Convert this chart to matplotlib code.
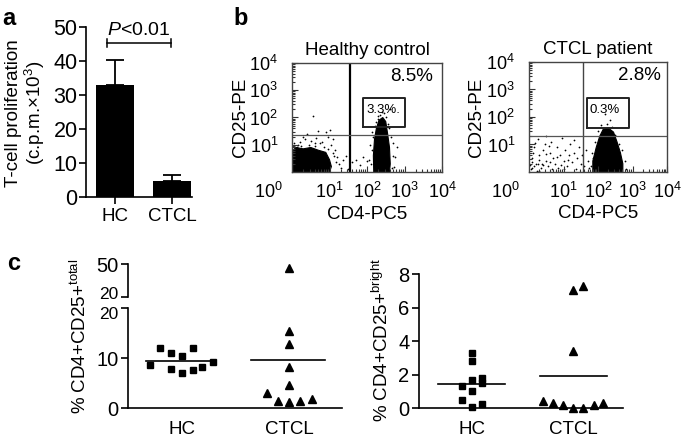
import numpy as np
import matplotlib
matplotlib.use('Agg')
import matplotlib.pyplot as plt
from matplotlib.transforms import ScaledTranslation

plt.rcParams['font.family'] = ['Liberation Sans', 'DejaVu Sans']
plt.rcParams['mathtext.fontset'] = 'custom'
plt.rcParams['mathtext.rm'] = 'Liberation Sans'
plt.rcParams['mathtext.it'] = 'Liberation Sans:italic'
plt.rcParams['mathtext.bf'] = 'Liberation Sans:bold'

## Panel a: proliferation
groups = ['HC', 'CTCL']
prolif_mean = [33.0, 4.6]
prolif_err = [7.3, 2.0]

## Panel b: flow plots (values in log10 units)
hc_neg_x = [0.0, 0.0, 0.1, 0.3, 0.5, 0.7, 0.9, 1.0, 1.05, 1.0]
hc_neg_y = [0.0, 0.75, 0.9, 0.85, 0.9, 0.8, 0.72, 0.45, 0.2, 0.0]
hc_pos_x = [2.18, 2.17, 2.2, 2.25, 2.32, 2.42, 2.5, 2.55, 2.6, 2.62, 2.6]
hc_pos_y = [0.0, 0.6, 1.2, 1.6, 1.9, 2.0, 1.85, 1.4, 0.9, 0.3, 0.0]
hc_ev_x = [0.05, 0.2, 0.35, 0.5, 0.65, 0.8, 0.95, 1.05, 1.15, 1.2, 1.25, 1.3,
           0.4, 0.7, 0.9, 1.0, 0.55, 0.3, 1.1, 1.35, 1.45, 1.6, 1.7, 1.8,
           1.9, 2.0, 1.5, 0.12, 0.75, 0.25, 0.6, 0.85, 1.12,
           2.1, 2.12, 2.15, 2.2, 2.3, 2.35, 2.5, 2.55, 2.65, 2.7, 2.68, 2.75,
           2.72, 2.14, 2.05, 2.45, 2.6, 2.8, 2.4, 2.28,
           0.15, 0.45, 0.62, 0.95, 1.08, 0.02, 1.18, 2.08, 2.66, 2.25, 2.58]
hc_ev_y = [1.05, 1.1, 1.2, 1.15, 1.25, 1.1, 1.3, 1.0, 0.8, 0.55, 0.3, 0.15,
           1.4, 1.5, 1.45, 1.55, 2.05, 1.3, 1.2, 0.45, 0.6, 0.35, 0.45, 0.25,
           0.55, 0.4, 0.1, 0.9, 1.05, 0.95, 0.95, 0.9, 0.6,
           0.3, 0.8, 1.3, 1.7, 2.05, 2.1, 2.0, 1.75, 1.3, 1.05, 0.6, 0.55,
           0.2, 1.45, 0.45, 2.15, 2.3, 0.9, 2.2, 1.95,
           1.0, 1.0, 1.05, 0.85, 0.7, 0.95, 0.35, 1.0, 0.15, 1.85, 1.6]

ct_pos_x = [1.85, 1.85, 1.95, 2.05, 2.15, 2.3, 2.45, 2.55, 2.65, 2.72, 2.72]
ct_pos_y = [0.0, 0.4, 0.9, 1.3, 1.55, 1.6, 1.45, 1.1, 0.7, 0.3, 0.0]
ct_ev_x = [0.05, 0.1, 0.15, 0.2, 0.25, 0.3, 0.35, 0.4, 0.45, 0.5, 0.55, 0.6,
           0.65, 0.7, 0.75, 0.8, 0.85, 0.9, 0.95, 1.0, 1.05, 1.1, 1.15, 1.2,
           1.25, 1.3, 1.35, 1.4, 1.45, 1.5, 1.55, 1.6, 1.65, 1.7, 1.75, 0.12,
           0.28, 0.48, 0.62, 0.82, 0.92, 1.12, 0.38, 0.58, 0.22, 0.68, 1.02,
           0.18, 1.3, 0.5, 1.85, 1.9, 0.02, 0.08, 0.15, 0.3, 0.42, 0.1, 0.25,
           1.8, 1.82, 1.9, 2.0, 2.1, 2.25, 2.4, 2.5, 2.6, 2.7, 2.78, 2.8,
           2.2, 2.35, 1.95]
ct_ev_y = [0.1, 0.5, 0.9, 0.3, 1.2, 0.6, 0.15, 0.8, 1.0, 0.4, 0.2, 0.7,
           1.1, 0.5, 0.3, 0.9, 0.15, 0.6, 1.25, 0.4, 0.8, 0.2, 0.6, 1.0,
           0.35, 0.7, 0.1, 0.5, 0.9, 0.3, 0.6, 0.2, 0.8, 0.4, 0.15, 0.7,
           0.45, 0.65, 0.35, 0.55, 0.25, 0.45, 0.3, 0.95, 0.05, 0.12, 0.1,
           1.05, 1.15, 1.3, 0.5, 0.2, 0.25, 0.35, 0.2, 0.05, 0.25, 0.15, 0.3,
           0.2, 0.7, 1.1, 1.5, 1.7, 1.75, 1.65, 1.35, 1.0, 0.8, 0.4, 0.1,
           2.1, 1.9, 0.3]

## gates: x, y, bright box [x0, x1, y0, y1], labels
hc_gate = (1.55, 1.36, [1.9, 3.02, 1.65, 2.72], '8.5%', '3.3%.')
ct_gate = (1.57, 1.31, [1.68, 2.9, 1.6, 2.69], '2.8%', '0.3%')

## Panel c: dot plots
hc_total = [8.7, 12.0, 11.0, 7.9, 10.5, 7.1, 12.0, 7.6, 8.3, 9.3]
hc_total_jit = [-0.30, -0.21, -0.10, -0.10, 0.0, 0.0, 0.10, 0.10, 0.19, 0.29]
ct_total = [46.6, 15.4, 12.9, 8.3, 4.7, 1.3, 3.1, 1.4, 1.4, 1.9]
ct_total_jit = [0.0, 0.0, 0.0, 0.0, 0.0, 0.0, -0.21, -0.10, 0.10, 0.21]

hc_bright = [1.33, 0.48, 3.3, 2.8, 1.68, 1.03, 0.08, 1.81, 1.47, 0.22]
hc_bright_jit = [-0.1, -0.1, 0.0, 0.0, 0.0, 0.0, 0.0, 0.1, 0.1, 0.1]
ct_bright = [7.04, 7.3, 3.42, 0.44, 0.3, 0.18, 0.02, 0.02, 0.18, 0.3]
ct_bright_jit = [0.0, 0.1, 0.0, -0.3, -0.2, -0.1, 0.0, 0.1, 0.2, 0.29]

W, H = 686, 440
fig = plt.figure(figsize=(W / 100, H / 100), dpi=100)


def add_ax(l, t, r, b):
    return fig.add_axes([l / W, 1 - b / H, (r - l) / W, (b - t) / H])


FS = 13.5

## ---- panel a
ax = add_ax(86, 27, 192, 197)
ax.bar([0, 1], prolif_mean, width=0.667, color='black',
       yerr=[[0, 0], prolif_err],
       error_kw=dict(ecolor='black', elinewidth=1.3, capsize=6.5, capthick=1.3))
ax.set_xlim(-0.51, 1.35)
ax.set_ylim(0, 50)
ax.set_yticks(range(0, 51, 10))
ax.set_xticks([0, 1])
ax.set_xticklabels(groups)
for s in ['top', 'right']:
    ax.spines[s].set_visible(False)
for s in ['left', 'bottom']:
    ax.spines[s].set_linewidth(1.2)
ax.tick_params(length=5, width=1.2, labelsize=FS, pad=3)
ax.tick_params(axis='y', labelsize=15.5, pad=1)
ax.plot([-0.14, 0.98], [45.3, 45.3], color='black', lw=1.1, clip_on=False)
ax.plot([-0.14, -0.14], [44.0, 46.4], color='black', lw=1.1, clip_on=False)
ax.plot([0.98, 0.98], [44.0, 46.4], color='black', lw=1.1, clip_on=False)
ax.text(0.42, 46.4, '$P$<0.01', ha='center', va='bottom', fontsize=FS + 0.5)
fig.text(26 / W, 1 - 113 / H, 'T-cell proliferation\n(c.p.m.×10$^3$)',
         rotation=90, ha='center', va='center', fontsize=FS, linespacing=1.1)


## ---- panel b
def flow(box, neg, pos, ev, gate, title, cx):
    ax = add_ax(*box)
    ax.set_xlim(0, 4)
    ax.set_ylim(0, 4)
    if neg is not None:
        ax.fill(neg[0], neg[1], color='black', lw=0.8)
    ax.fill(pos[0], pos[1], color='black', lw=0.8)
    ax.scatter(ev[0], ev[1], s=1.6, color='black', linewidths=0, clip_on=False)
    gx, gy, bx, big, small = gate
    ax.axvline(gx, color='black' if neg is not None else '#444444',
               lw=1.6 if neg is not None else 1.0)
    ax.axhline(gy, color='#555555', lw=0.9)
    ax.plot([bx[0], bx[1], bx[1], bx[0], bx[0]],
            [bx[2], bx[2], bx[3], bx[3], bx[2]], color='#222222', lw=1.4)
    ax.text(bx[0] + 0.08, (bx[2] + bx[3]) / 2 + 0.1, small, ha='left',
            va='center', fontsize=9.5)
    ax.text(0.80, 0.875, big, transform=ax.transAxes, ha='center',
            va='center', fontsize=FS)
    ax.set_xticks([1, 2, 3, 4])
    ax.set_yticks([1, 2, 3, 4])
    ax.set_xticklabels(['$10^{%d}$' % k for k in range(1, 5)])
    ax.set_yticklabels(['$10^{%d}$' % k for k in range(1, 5)])
    minors = [k + np.log10(m) for k in range(4) for m in range(2, 10)]
    ax.set_xticks(minors, minor=True)
    ax.set_yticks(minors, minor=True)
    ax.tick_params(which='both', direction='in', color='#333333', width=0.8,
                   labelsize=FS - 0.5)
    ax.tick_params(which='major', length=4)
    ax.tick_params(which='minor', length=2.5)
    ax.tick_params(axis='x', pad=7)
    ax.tick_params(axis='y', pad=10)
    for s in ax.spines.values():
        s.set_color('#444444')
        s.set_linewidth(1.0)
    ax.set_title(title, fontsize=FS, pad=6)
    w = box[2] - box[0]
    hgt = box[3] - box[1]
    ax.text(cx, -10 / hgt, '$10^0$', transform=ax.transAxes, ha='center',
            va='top', fontsize=FS - 0.5)
    ax.text(-52 / w, 0.5, 'CD25-PE', transform=ax.transAxes,
            rotation=90, ha='center', va='center', fontsize=FS)
    ax.text(0.5, -42 / hgt, 'CD4-PC5', transform=ax.transAxes, ha='center',
            va='center', fontsize=FS)
    return ax


flow((292, 63, 442, 172), (hc_neg_x, hc_neg_y), (hc_pos_x, hc_pos_y),
     (hc_ev_x, hc_ev_y), hc_gate, 'Healthy control', -0.16)
flow((529, 62, 667, 172), None, (ct_pos_x, ct_pos_y),
     (ct_ev_x, ct_ev_y), ct_gate, 'CTCL patient', -0.174)


## ---- panel c
def style_dot(ax, xlab=True):
    for s in ['top', 'right']:
        ax.spines[s].set_visible(False)
    for s in ['left', 'bottom']:
        ax.spines[s].set_linewidth(1.2)
    ax.tick_params(axis='y', length=5, width=1.2, labelsize=14.5, pad=2)
    if xlab:
        ax.set_xticks([0, 1])
        ax.set_xticklabels(groups)
        ax.tick_params(axis='x', length=0, labelsize=FS, pad=9)


mk = dict(color='black', ls='none', clip_on=False)

lo = add_ax(128, 308, 342, 408)
hi = add_ax(128, 264, 342, 297)
lo.set_xlim(-0.505, 1.495)
hi.set_xlim(-0.505, 1.495)
lo.set_ylim(0, 20)
hi.set_ylim(20, 50)
lo.set_yticks([0, 10, 20])
hi.set_yticks([20, 50])
style_dot(lo)
style_dot(hi, xlab=False)
hi.spines['bottom'].set_visible(False)
hi.set_xticks([])
# pull the two "20" labels of the broken axis apart a little
lab_lo = lo.get_yticklabels()[-1]
lab_lo.set_fontsize(12.5)
lab_lo.set_transform(lab_lo.get_transform()
                     + ScaledTranslation(0, -0.05, fig.dpi_scale_trans))
lab_hi = hi.get_yticklabels()[0]
lab_hi.set_fontsize(12.5)
lab_hi.set_transform(lab_hi.get_transform()
                     + ScaledTranslation(0, 0.04, fig.dpi_scale_trans))

hv = np.array(hc_total)
cv = np.array(ct_total)
hj = np.array(hc_total_jit)
cj = np.array(ct_total_jit)
lo.plot(hj, hv, marker='s', ms=5, **mk)
lo.plot(cj[cv < 20] + 1, cv[cv < 20], marker='^', ms=5.5, **mk)
hi.plot(cj[cv >= 20] + 1, cv[cv >= 20], marker='^', ms=5.5, **mk)
lo.plot([-0.34, 0.27], [hv.mean()] * 2, color='black', lw=1.2)
lo.plot([1 - 0.36, 1 + 0.34], [cv.mean()] * 2, color='black', lw=1.2)
fig.text(80 / W, 1 - 336 / H, '% CD4+CD25+$^{\\mathrm{total}}$', rotation=90,
         ha='center', va='center', fontsize=FS)

rc = add_ax(419, 274, 623, 408)
rc.set_xlim(-0.52, 1.49)
rc.set_ylim(0, 8)
rc.set_yticks([0, 2, 4, 6, 8])
style_dot(rc)
hb = np.array(hc_bright)
cb = np.array(ct_bright)
rc.plot(np.array(hc_bright_jit), hb, marker='s', ms=5, **mk)
rc.plot(np.array(ct_bright_jit) + 1, cb, marker='^', ms=5.5, **mk)
rc.plot([-0.33, 0.33], [hb.mean()] * 2, color='black', lw=1.2)
rc.plot([1 - 0.33, 1 + 0.33], [cb.mean()] * 2, color='black', lw=1.2)
fig.text(382 / W, 1 - 340 / H, '% CD4+CD25+$^{\\mathrm{bright}}$', rotation=90,
         ha='center', va='center', fontsize=FS)

## panel letters
for lab, x, y in [('a', 2, 25), ('b', 233, 25), ('c', 7, 270)]:
    fig.text(x / W, 1 - y / H, lab, fontsize=17, fontweight='bold',
             va='baseline')

fig.savefig('out.png', dpi=100)
